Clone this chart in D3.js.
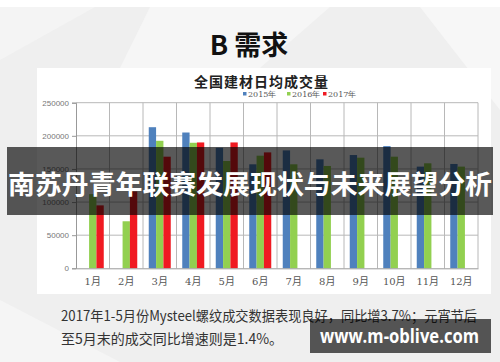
<!DOCTYPE html>
<html><head><meta charset="utf-8">
<script src="https://cdn.jsdelivr.net/npm/d3@7"></script>
<style>body{margin:0;padding:0;overflow:hidden}svg{display:block}</style>
</head><body>
<script>
const months = ["1月","2月","3月","4月","5月","6月","7月","8月","9月","10月","11月","12月"];
const seriesNames = ["2015年","2016年","2017年"];
const v2015 = [null,null,213000,205000,182000,157000,178000,164500,171000,184500,153500,157500];
const v2016 = [112000,71000,192500,189500,162000,170000,157000,154500,167000,168500,158500,153500];
const v2017 = [95000,116000,168500,190000,190000,175000,null,null,null,null,null,null];
const yTicks = [0,50000,100000,150000,200000,250000];
const colors = ["#4f81bd","#92d050","#f01a22"];

const W=500,H=362;
const svg=d3.select("body").append("svg").attr("width",W).attr("height",H);
// background
svg.append("rect").attr("width",W).attr("height",H).attr("fill","#efefef");
svg.append("rect").attr("width",W).attr("height",7).attr("fill","#ffffff");
svg.append("path").attr("d","M0,60 L95,7 L0,7 Z").attr("fill","#f4f4f4");
svg.append("path").attr("d","M150,7 L330,7 L260,68 L120,68 Z").attr("fill","#f6f6f6");
svg.append("path").attr("d","M420,7 L500,7 L500,110 Z").attr("fill","#f7f7f7");
svg.append("path").attr("d","M0,300 L120,362 L0,362 Z").attr("fill","#f5f5f5");

// title
svg.append("text").attr("x",249).attr("y",55).attr("text-anchor","middle")
  .attr("font-family","'Noto Sans CJK SC','Noto Sans',sans-serif").attr("font-weight","bold")
  .attr("font-size",27).attr("fill","#111").text("B 需求");

// chart panel
svg.append("rect").attr("x",37).attr("y",68).attr("width",454).attr("height",226).attr("fill","#ffffff");

svg.append("text").attr("x",261).attr("y",87).attr("text-anchor","middle")
  .attr("font-family","'Noto Sans CJK SC',sans-serif").attr("font-weight","bold")
  .attr("font-size",14).attr("fill","#222").attr("textLength",134).attr("lengthAdjust","spacing")
  .text("全国建材日均成交量");

// legend
const legX=[243,287,323];
seriesNames.forEach((s,i)=>{
  const g=svg.append("g").attr("transform",`translate(${legX[i]},94)`);
  g.append("rect").attr("x",0).attr("y",-2).attr("width",3.5).attr("height",3.5).attr("fill",colors[i]);
  g.append("text").attr("x",5).attr("y",3).attr("font-family","'DejaVu Serif','Liberation Serif',serif")
    .attr("font-size",8).attr("fill","#555").text(s);
});

const x0=d3.scaleBand().domain(months).range([76,478]).padding(0);
const bw=x0.bandwidth();
const x1=d3.scaleBand().domain(seriesNames).range([bw/2-11,bw/2+11]).padding(0);
const y=d3.scaleLinear().domain([0,250000]).range([268.3,102.7]);

// gridlines
svg.append("g").selectAll("line").data(yTicks.slice(1)).join("line")
  .attr("x1",76).attr("x2",478).attr("y1",d=>y(d)).attr("y2",d=>y(d))
  .attr("stroke","#b8b8b8").attr("stroke-width",1);
svg.append("g").selectAll("line").data(months).join("line")
  .attr("x1",d=>x0(d)+bw).attr("x2",d=>x0(d)+bw).attr("y1",y(250000)).attr("y2",y(0))
  .attr("stroke","#b8b8b8").attr("stroke-width",1);

// bars
const allVals=[v2015,v2016,v2017];
months.forEach((m,mi)=>{
  seriesNames.forEach((s,si)=>{
    const v=allVals[si][mi];
    if(v==null) return;
    svg.append("rect").attr("x",x0(m)+x1(s)).attr("width",x1.bandwidth())
      .attr("y",y(v)).attr("height",y(0)-y(v)).attr("fill",colors[si]);
  });
});

// y axis
const ya=svg.append("g").attr("transform","translate(76,0)")
  .call(d3.axisLeft(y).tickValues(yTicks).tickSize(4).tickFormat(d3.format("d")));
ya.select(".domain").attr("stroke","#999");
ya.selectAll(".tick line").attr("stroke","#999");
ya.selectAll("text").attr("font-family","'Liberation Sans',sans-serif").attr("font-size",8).attr("fill","#777").attr("x",-7);

// x axis
const xa=svg.append("g").attr("transform",`translate(0,${y(0)})`)
  .call(d3.axisBottom(x0).tickSize(0).tickSizeOuter(0));
xa.select(".domain").attr("stroke","#999");
xa.selectAll("text").attr("font-family","'DejaVu Serif','Noto Sans CJK SC',serif").attr("font-size",10)
  .attr("fill","#555").attr("dy",0).attr("y",17);

// bottom text
const bt=svg.append("g").attr("font-family","'Noto Sans CJK SC',sans-serif").attr("font-size",14).attr("fill","#333");
bt.append("text").attr("x",61).attr("y",321).attr("textLength",416).attr("lengthAdjust","spacingAndGlyphs")
  .text("2017年1-5月份Mysteel螺纹成交数据表现良好，同比增3.7%；元宵节后");
bt.append("text").attr("x",61).attr("y",344).text("至5月末的成交同比增速则是1.4%。");

// banner overlay
svg.append("rect").attr("x",7).attr("y",147).attr("width",486).attr("height",68).attr("fill","rgba(0,0,0,0.65)");
svg.append("text").attr("x",8).attr("y",194).attr("textLength",484).attr("lengthAdjust","spacingAndGlyphs")
  .attr("font-family","'Noto Sans CJK SC',sans-serif").attr("font-weight","bold").attr("font-size",26)
  .attr("fill","#ffffff").text("南苏丹青年联赛发展现状与未来展望分析");

// watermark
svg.append("rect").attr("x",310).attr("y",319).attr("width",181).attr("height",34).attr("fill","rgba(0,0,0,0.65)");
svg.append("text").attr("x",320).attr("y",343).attr("textLength",159).attr("lengthAdjust","spacingAndGlyphs")
  .attr("font-family","'Open Sans','DejaVu Sans',sans-serif").attr("font-weight","bold").attr("font-size",19)
  .attr("fill","#ffffff").text("www.m-oblive.com");
</script>
</body></html>
